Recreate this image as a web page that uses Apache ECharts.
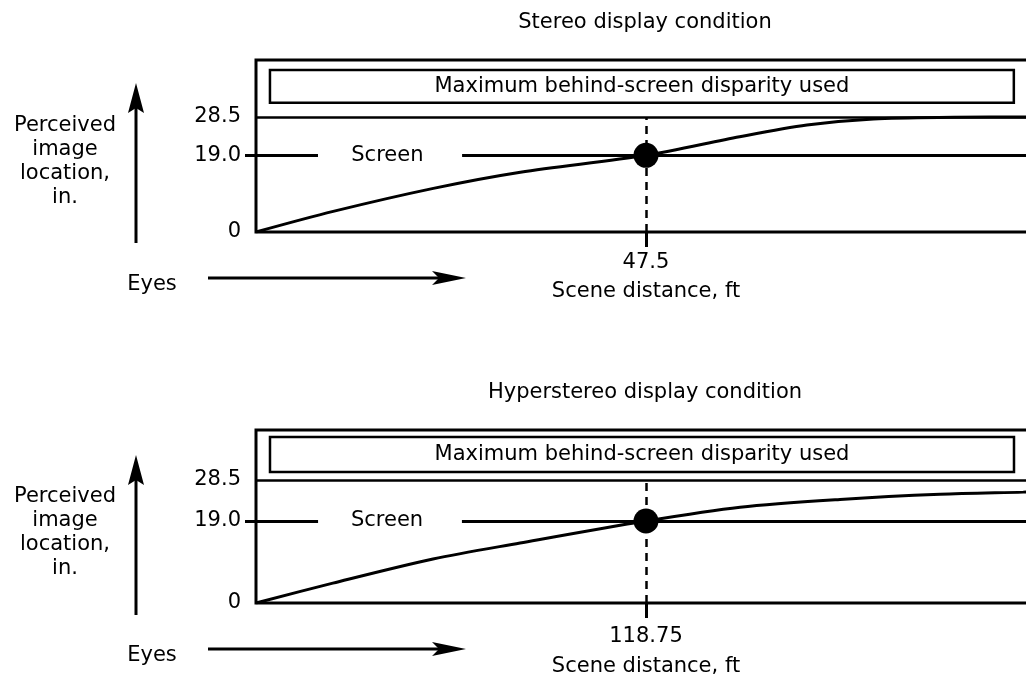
<!DOCTYPE html>
<html>
<head>
<meta charset="utf-8">
<script src="https://cdn.jsdelivr.net/npm/echarts@6/dist/echarts.min.js"></script>
<style>
  html, body { margin: 0; padding: 0; background: #fff; }
  #chart { width: 1026px; height: 684px; }
</style>
</head>
<body>
<div id="chart"></div>
<script>
// values (scene distance in ft, perceived location in in.)
var stereoX = [0, 9.4, 21.6, 32.2, 47.5, 58.9, 67.1, 75.2, 85, 95];
var stereoY = [0, 5.1, 10.8, 14.8, 19.0, 23.6, 26.5, 28.0, 28.4, 28.5];
var hyperX = [0, 23.4, 53.9, 80.4, 118.75, 147.4, 177.8, 208.3, 233.6, 237.5];
var hyperY = [0, 4.6, 10.2, 13.9, 19.0, 22.2, 24.0, 25.2, 25.7, 25.8];
var yTickValues = [0, 19.0, 28.5];
var screenValue = 19.0;
var maxDisparity = 28.5;
var crossDistance = [47.5, 118.75];
var panelTitles = ['Stereo display condition', 'Hyperstereo display condition'];

var FONT = 'DejaVu Sans';
var txt = { color: '#000', fontSize: 21, fontFamily: FONT };

// layout of each panel (pixels / axis extents), not data
var panels = [
  { top: 60, height: 172, xMax: 95, yMax: 42.6, labelMargin: 20, nameGap: 49,
    box: [1.7, 32.0, 92.3, 40.15], gapStart: 7.55, gapEnd: 25.1, screenX: 16 },
  { top: 430, height: 173, xMax: 237.5, yMax: 40.1, labelMargin: 23, nameGap: 53,
    box: [4.26, 30.35, 230.8, 38.5], gapStart: 18.9, gapEnd: 62.7, screenX: 39.9 }
];

var grids = [], xAxes = [], yAxes = [], series = [], titles = [];

function toPairs(xs, ys) {
  return xs.map(function (x, k) { return [x, ys[k]]; });
}

[[stereoX, stereoY], [hyperX, hyperY]].forEach(function (d, i) {
  var p = panels[i];
  var cross = crossDistance[i];
  grids.push({
    left: 256, top: p.top, width: 780, height: p.height,
    show: true, borderColor: '#000', borderWidth: 3, backgroundColor: '#fff',
    containLabel: false, outerBoundsMode: 'none'
  });
  xAxes.push({
    gridIndex: i, type: 'value', min: 0, max: p.xMax,
    axisLine: { show: false }, splitLine: { show: false },
    axisTick: { show: true, customValues: [cross], length: 15, lineStyle: { color: '#000', width: 3 } },
    axisLabel: { show: true, customValues: [cross], margin: p.labelMargin,
      formatter: function (v) { return String(v); }, color: '#000', fontSize: 21, fontFamily: FONT },
    name: 'Scene distance, ft', nameLocation: 'middle', nameGap: p.nameGap, nameTextStyle: txt
  });
  yAxes.push({
    gridIndex: i, type: 'value', min: 0, max: p.yMax,
    axisLine: { show: false }, splitLine: { show: false },
    axisTick: { show: true, customValues: [screenValue], length: 11, lineStyle: { color: '#000', width: 3 } },
    axisLabel: { show: true, customValues: yTickValues, margin: 15,
      formatter: function (v) { return v === 0 ? '0' : v.toFixed(1); },
      color: '#000', fontSize: 21, fontFamily: FONT }
  });
  series.push({
    type: 'line', xAxisIndex: i, yAxisIndex: i,
    data: toPairs(d[0], d[1]),
    smooth: 0.3, symbol: 'none', silent: true,
    lineStyle: { color: '#000', width: 3 },
    z: 3,
    markArea: {
      silent: true,
      itemStyle: { color: '#fff', borderColor: '#000', borderWidth: 2.5 },
      label: { show: true, position: 'inside', color: '#000', fontSize: 21, fontFamily: FONT },
      data: [[
        { name: 'Maximum behind-screen disparity used', xAxis: p.box[0], yAxis: p.box[1] },
        { xAxis: p.box[2], yAxis: p.box[3] }
      ]]
    },
    markLine: {
      silent: true, symbol: 'none', label: { show: false },
      lineStyle: { color: '#000', width: 3, type: 'solid' },
      data: [
        { yAxis: maxDisparity, lineStyle: { width: 2.5 } },
        [{ coord: [0, screenValue] }, { coord: [p.gapStart, screenValue] }],
        [{ coord: [p.gapEnd, screenValue] }, { coord: [p.xMax, screenValue] }],
        [{ coord: [cross, 0], lineStyle: { type: [8, 6], width: 2.5 } }, { coord: [cross, maxDisparity] }]
      ]
    },
    markPoint: {
      silent: true,
      data: [{
        coord: [p.screenX, screenValue], symbol: 'rect', symbolSize: 1,
        itemStyle: { color: 'rgba(0,0,0,0)' },
        label: { show: true, position: 'inside', formatter: 'Screen', color: '#000', fontSize: 21, fontFamily: FONT }
      }]
    }
  });
  series.push({
    type: 'scatter', xAxisIndex: i, yAxisIndex: i, silent: true,
    data: [[cross, screenValue]], symbolSize: 25,
    itemStyle: { color: '#000', opacity: 1 }, z: 5
  });
  titles.push({
    text: panelTitles[i], left: 645, top: i === 0 ? 12 : 382, textAlign: 'center', padding: 0,
    textStyle: { color: '#000', fontSize: 21, fontFamily: FONT, fontWeight: 'normal' }
  });
});

// side annotations: up arrow with axis caption, "Eyes" arrow
var graphics = [];
[{ axTop: 83, axBot: 243, capY: 162, eyesY: 278 }, { axTop: 455, axBot: 615, capY: 533, eyesY: 649 }]
  .forEach(function (g) {
    graphics.push(
      { type: 'line', shape: { x1: 136, y1: g.axBot, x2: 136, y2: g.axTop + 20 }, style: { stroke: '#000', lineWidth: 3 } },
      { type: 'polygon', shape: { points: [[136, g.axTop], [128, g.axTop + 30], [136, g.axTop + 25], [144, g.axTop + 30]] }, style: { fill: '#000' } },
      { type: 'text', x: 65, y: g.capY, style: { text: 'Perceived\nimage\nlocation,\nin.', align: 'center', verticalAlign: 'middle',
        fontSize: 21, lineHeight: 24, fontFamily: FONT, fill: '#000' } },
      { type: 'line', shape: { x1: 208, y1: g.eyesY, x2: 445, y2: g.eyesY }, style: { stroke: '#000', lineWidth: 3 } },
      { type: 'polygon', shape: { points: [[466, g.eyesY], [432, g.eyesY - 7], [439, g.eyesY], [432, g.eyesY + 7]] }, style: { fill: '#000' } },
      { type: 'text', x: 152, y: g.eyesY + 7, style: { text: 'Eyes', align: 'center', verticalAlign: 'middle',
        fontSize: 21, fontFamily: FONT, fill: '#000' } }
    );
  });

var chart = echarts.init(document.getElementById('chart'));
chart.setOption({
  animation: false,
  backgroundColor: '#fff',
  title: titles,
  grid: grids,
  xAxis: xAxes,
  yAxis: yAxes,
  series: series,
  graphic: graphics
});
</script>
</body>
</html>
